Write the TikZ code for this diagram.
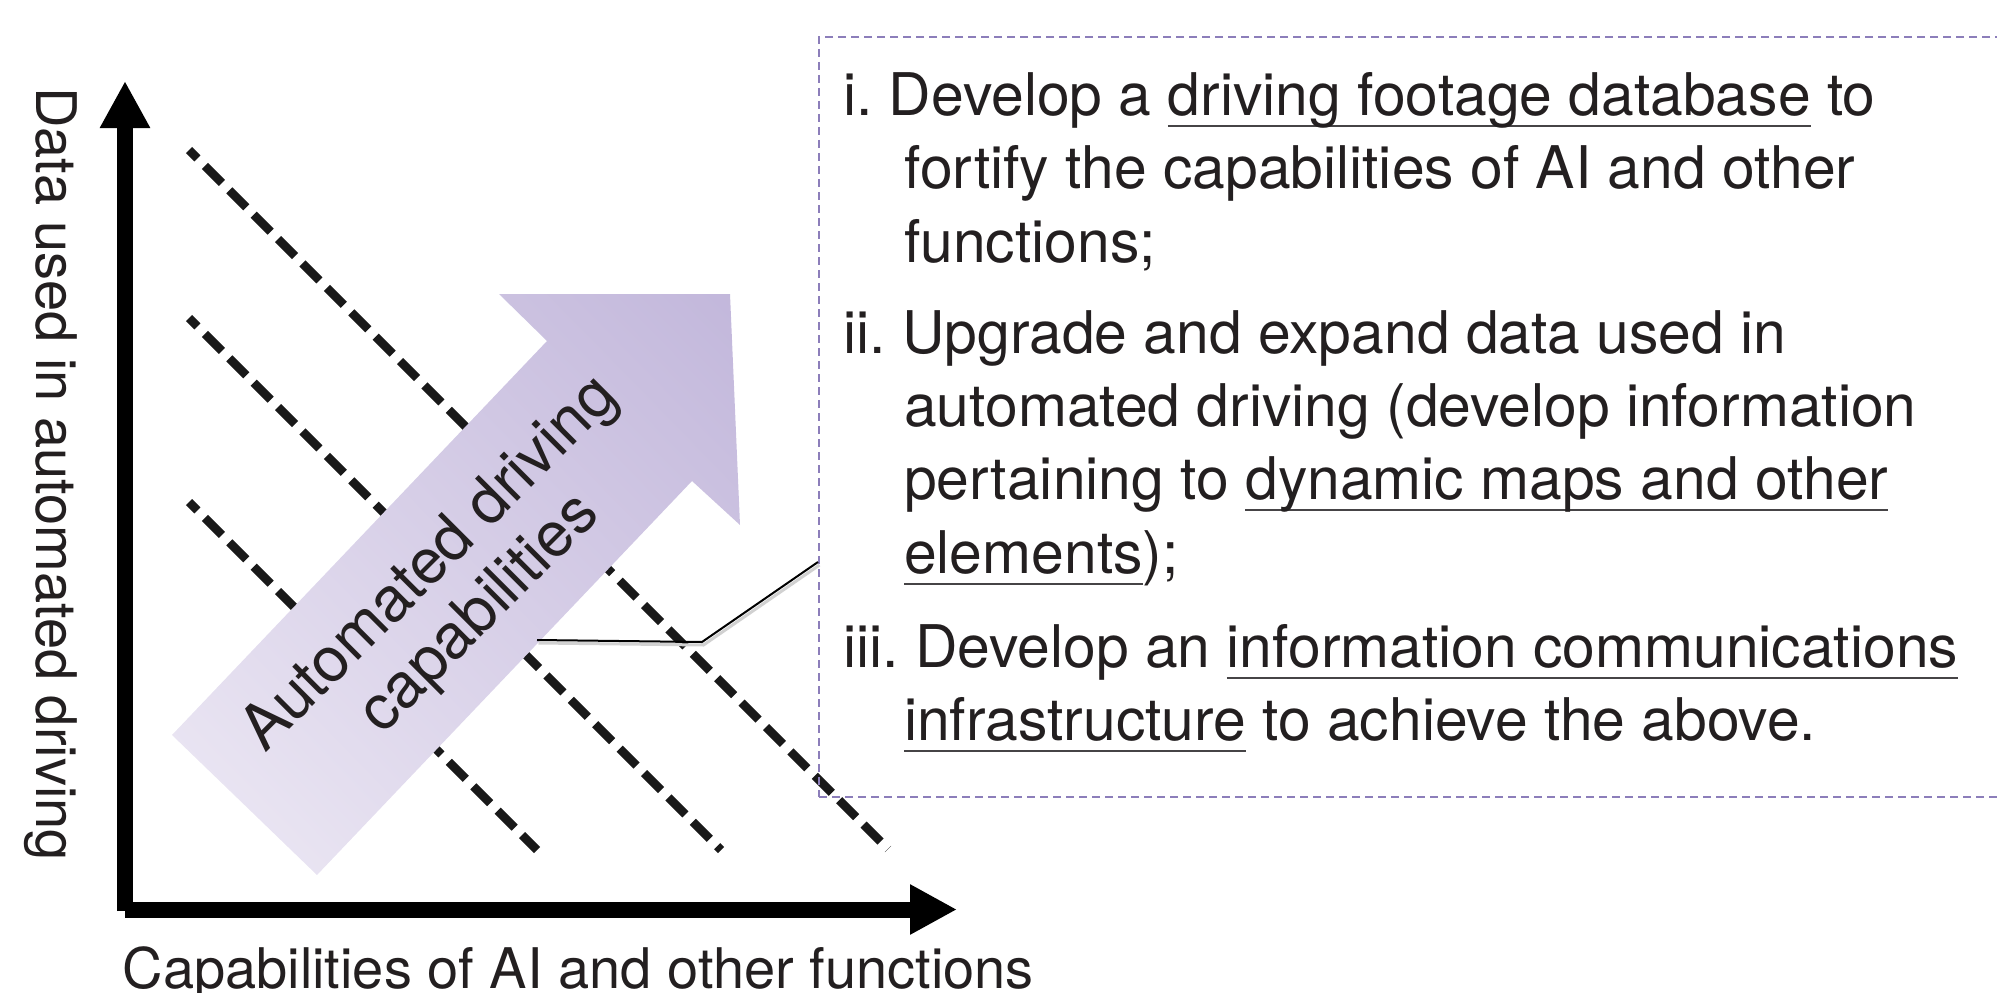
\documentclass[tikz,border=0pt]{standalone}
\usepackage{fontspec}
\setmainfont{TeX Gyre Heros}
\usetikzlibrary{arrows.meta,shadings}
\definecolor{txt}{RGB}{35,31,32}
\definecolor{boxc}{RGB}{140,126,186}
\definecolor{arrlight}{RGB}{238,234,245}
\definecolor{arrmid}{RGB}{216,208,232}
\definecolor{arrdark}{RGB}{194,183,219}
\definecolor{ulc}{RGB}{70,68,70}
\newsavebox\ulbox
\newcommand\myul[1]{\sbox\ulbox{#1}\rlap{\color{ulc}\rule[-12pt]{\wd\ulbox}{2pt}}\usebox\ulbox}
\frenchspacing
\begin{document}
\begin{tikzpicture}[x=1pt,y=-1pt,
  boxtext/.style={anchor=base west, inner sep=0pt, text=txt, font=\fontsize{58.8}{74}\selectfont},
  axislabel/.style={anchor=base west, inner sep=0pt, text=txt, font=\fontsize{56}{66}\selectfont},
  axisline/.style={line width=16pt, -{Triangle[length=47pt,width=47pt]}},
  guide/.style={line width=8.5pt, draw=black!90, dash pattern=on 24pt off 10.5pt, dash phase=12pt},
  callout/.style={line width=2pt, line join=miter},
  notebox/.style={draw=boxc, line width=2pt, dash pattern=on 8pt off 5pt, rectangle, inner sep=0pt, anchor=north west}]

\useasboundingbox (0,0) rectangle (1997,993);

% dashed guide lines
\coordinate (gA1) at (189,150); \coordinate (gA2) at (888,849);
\coordinate (gB1) at (189,318); \coordinate (gB2) at (721,850);
\coordinate (gC1) at (189,502); \coordinate (gC2) at (537,850);
\draw[guide] (gA1) -- (gA2);
\draw[guide] (gB1) -- (gB2);
\draw[guide] (gC1) -- (gC2);

% axes
\coordinate (yfoot) at (125,911); \coordinate (ytip) at (125,81);
\coordinate (xfoot) at (125,909.5); \coordinate (xtip) at (957,909.5);
\draw[axisline] (yfoot) -- (ytip);
\draw[axisline] (xfoot) -- (xtip);

% axis labels
\node[axislabel] (xlab) at (122.5,988) {Capabilities of AI and other functions};
\node[axislabel, rotate=-90] (ylab) at (36,87) {Data used in automated driving};

% big arrow
\coordinate (t1) at (172,735); \coordinate (n1) at (547,341);
\coordinate (b1) at (499,294); \coordinate (tip) at (730,294);
\coordinate (b2) at (740,525); \coordinate (n2) at (692,481);
\coordinate (t2) at (317,875);
\shade[upper left=arrmid, lower right=arrmid, lower left=arrlight, upper right=arrdark]
  (t1) -- (n1) -- (b1) -- (tip) -- (b2) -- (n2) -- (t2) -- cycle;
\node[rotate=45, align=center, text=txt, inner sep=0pt, font=\fontsize{62.5}{70}\selectfont] (cap) at (456,590) {Automated driving\\capabilities};

% note box
\node[notebox, minimum width=1200pt, minimum height=760pt] (box) at (818,36) {};

\node[boxtext] (l1) at (843,115) {i. Develop a \myul{driving footage database} to};
\node[boxtext] (l2) at (904,188) {fortify the capabilities of AI and other};
\node[boxtext] (l3) at (904,262) {functions;};
\node[boxtext] (l4) at (843,353) {ii. Upgrade and expand data used in};
\node[boxtext] (l5) at (904,426) {automated driving (develop information};
\node[boxtext] (l6) at (904,499) {pertaining to \myul{dynamic maps and other}};
\node[boxtext] (l7) at (904,573) {\myul{elements});};
\node[boxtext] (l8) at (843,667) {iii. Develop an \myul{information communications}};
\node[boxtext] (l9) at (904,740) {\myul{infrastructure} to achieve the above.};

% callout
\coordinate (cs) at (537,640); \coordinate (ck) at (702,642); \coordinate (ce) at (818,562);
\begin{scope}[transform canvas={xshift=1.5pt,yshift=-3pt}]
\draw[callout, black!18, line width=3pt] (cs) -- (ck) -- (ce);
\end{scope}
\draw[callout] (cs) -- (ck) -- (ce);
\end{tikzpicture}
\end{document}
